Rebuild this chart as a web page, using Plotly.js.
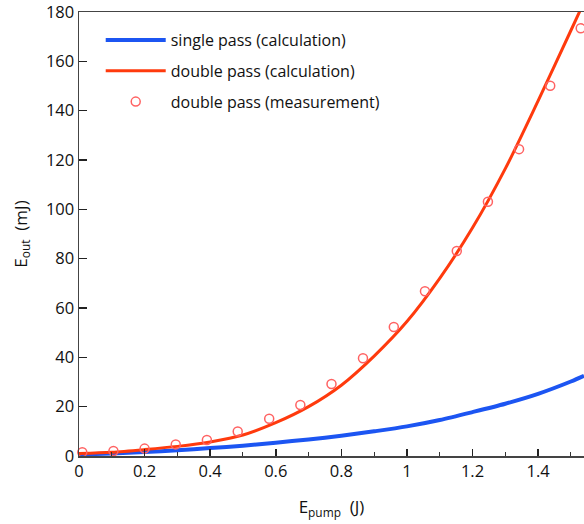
<!DOCTYPE html>
<html><head><meta charset="utf-8">
<script src="https://cdn.plot.ly/plotly-3.0.1.min.js"></script>
<style>html,body{margin:0;padding:0;background:#fff}#chart{width:584px;height:524px}</style>
</head><body><div id="chart"></div>
<script>
const calcX = [0, 0.1, 0.2, 0.3, 0.4, 0.5, 0.6, 0.7, 0.8, 0.9, 1.0, 1.1, 1.2, 1.3, 1.4, 1.5, 1.54];
const singleCalc = [0.6, 1.0, 1.6, 2.3, 3.2, 4.2, 5.4, 6.7, 8.2, 10.0, 12.0, 14.6, 17.8, 21.2, 25.2, 30.2, 32.5];
const doubleCalc = [1.0, 1.5, 2.6, 3.9, 5.7, 8.5, 13.5, 20.0, 28.7, 40.5, 54.5, 72.0, 92.5, 116.5, 144.0, 172.5, 184.0];
const measX = [0.01, 0.105, 0.2, 0.295, 0.39, 0.484, 0.58, 0.675, 0.77, 0.866, 0.96, 1.055, 1.152, 1.247, 1.342, 1.437, 1.53];
const measY = [1.5, 2.0, 3.0, 4.7, 6.5, 9.9, 15.1, 20.7, 29.2, 39.6, 52.3, 66.8, 83.1, 103.1, 124.4, 150.1, 173.4];
const names = ['single pass (calculation)', 'double pass (calculation)', 'double pass (measurement)'];
const xTitle = 'E<sub>pump</sub>  (J)';
const yTitle = 'E<sub>out</sub>  (mJ)';

const font = "'Open Sans', 'DejaVu Sans', sans-serif";
const traces = [
  {x: calcX, y: singleCalc, name: names[0], mode: 'lines', line: {color: '#1c55f2', width: 4, shape: 'spline', smoothing: 0.8}, legendgroup: 'a'},
  {x: calcX, y: doubleCalc, name: names[1], mode: 'lines', line: {color: '#ff3a0d', width: 3, shape: 'spline', smoothing: 0.8}, legendgroup: 'b'},
  {x: measX, y: measY, name: names[2], mode: 'markers', cliponaxis: false,
   marker: {symbol: 'circle-open', size: 9, color: '#ff6262', line: {width: 1.5, color: '#ff6262'}}, legendgroup: 'c'}
];
const layout = {
  width: 584, height: 524,
  margin: {l: 79, r: 0, t: 12, b: 68},
  paper_bgcolor: '#fff', plot_bgcolor: '#fff',
  font: {family: font, size: 16, color: '#111'},
  showlegend: true,
  legend: {x: 0.043, y: 0.975, xanchor: 'left', yanchor: 'top', bgcolor: 'rgba(0,0,0,0)',
    font: {family: font, size: 16, color: '#111'}, traceorder: 'grouped', tracegroupgap: 7, itemwidth: 60},
  xaxis: {range: [0, 1.54], tickvals: [0, 0.2, 0.4, 0.6, 0.8, 1, 1.2, 1.4], ticktext: ['0', '0.2', '0.4', '0.6', '0.8', '1', '1.2', '1.4'],
    ticks: 'inside', ticklen: 7, tickwidth: 1.5, tickcolor: '#222', ticklabeloverflow: 'allow',
    minor: {ticks: 'inside', dtick: 0.1, ticklen: 4, tickwidth: 1, tickcolor: '#333'},
    showline: true, linecolor: '#444', linewidth: 1.5, mirror: true, showgrid: false, zeroline: false,
    title: {text: xTitle, font: {family: font, size: 17}, standoff: 20},
    tickfont: {family: font, size: 16.5}},
  yaxis: {range: [0, 180], dtick: 20, ticks: 'inside', ticklen: 8, tickwidth: 1.5, tickcolor: '#222', ticklabeloverflow: 'allow',
    showline: true, linecolor: '#444', linewidth: 1.5, showgrid: false, zeroline: false,
    title: {text: yTitle, font: {family: font, size: 17}, standoff: 14},
    tickfont: {family: font, size: 16.5}}
};
Plotly.newPlot('chart', traces, layout, {displayModeBar: false, staticPlot: true});
</script></body></html>
